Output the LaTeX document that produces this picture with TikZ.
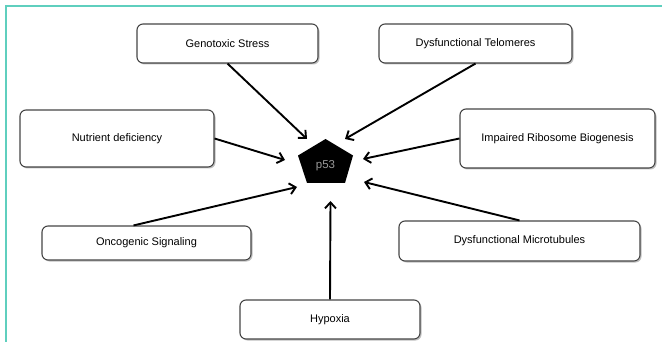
\documentclass[tikz,border=0pt]{standalone}
\usepackage{fontspec}
\setmainfont{Liberation Sans}
\usetikzlibrary{arrows.meta,shadows}
\definecolor{frameteal}{RGB}{95,207,190}
\definecolor{boxline}{RGB}{70,70,70}
\tikzset{
  causebox/.style={draw=boxline, line width=1.1pt, rounded corners=6pt, fill=white,
    font=\fontsize{11}{13}\selectfont, align=center, inner sep=0pt,
    drop shadow={shadow xshift=1.5pt, shadow yshift=-1.5pt, opacity=0.25, fill=black}},
  link/.style={line width=1.9pt, -{Straight Barb[length=6pt,width=11pt,line width=1.9pt]}},
}
\begin{document}
\begin{tikzpicture}[x=1pt,y=-1pt]
\useasboundingbox (0,0) rectangle (662,342);
\fill[white] (0,0) rectangle (662,342);
% frame
\draw[frameteal, line width=2pt] (5.5,342) -- (5.5,6.5) -- (662,6.5);
% boxes
\node[causebox, minimum width=181pt, minimum height=39pt] (gen) at (227.5,43.5) {Genotoxic Stress};
\node[causebox, minimum width=193pt, minimum height=39pt] (tel) at (475.5,43.5) {Dysfunctional Telomeres};
\node[causebox, minimum width=194pt, minimum height=57pt] (nut) at (117,138.5) {Nutrient deficiency};
\node[causebox, minimum width=195pt, minimum height=59pt] (rib) at (557.5,138.5) {Impaired Ribosome Biogenesis};
\node[causebox, minimum width=209pt, minimum height=34pt] (onc) at (146.5,243) {Oncogenic Signaling};
\node[causebox, minimum width=241pt, minimum height=40pt] (mic) at (519.5,241) {Dysfunctional Microtubules};
\node[causebox, minimum width=180pt, minimum height=39pt] (hyp) at (330,319.5) {Hypoxia};
% p53 pentagon
\fill[black] (325.5,139) -- (353,155.5) -- (345,183) -- (307,183) -- (298,155.5) -- cycle;
\node[text=gray!80, font=\fontsize{11.5}{13}\selectfont] (p53) at (325.5,166) {p53};
% arrow targets
\coordinate (tgen) at (307,139);
\coordinate (ttel) at (345,139);
\coordinate (tnut) at (285,160);
\coordinate (trib) at (363,159);
\coordinate (tonc) at (297,187);
\coordinate (tmic) at (364,182);
\coordinate (thyp) at (330.5,201);
% arrows
\draw[link] (gen.south) -- (tgen);
\draw[link] (tel.south) -- (ttel);
\draw[link] (nut.east) -- (tnut);
\draw[link] (rib.west) -- (trib);
\draw[link] ([xshift=-13pt]onc.north) -- (tonc);
\draw[link] (mic.north) -- (tmic);
\draw[link] (hyp.north) -- (thyp);
\end{tikzpicture}
\end{document}
